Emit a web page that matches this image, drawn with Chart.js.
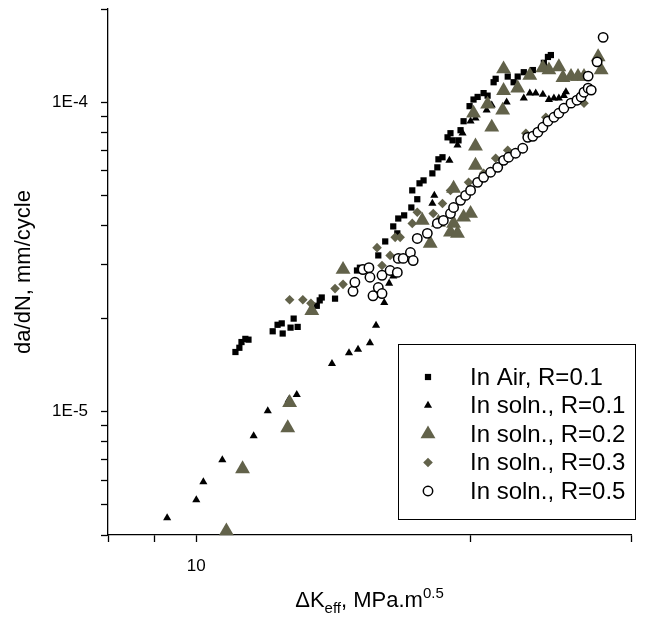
<!DOCTYPE html>
<html>
<head>
<meta charset="utf-8">
<script src="https://cdn.jsdelivr.net/npm/chart.js@4/dist/chart.umd.min.js"></script>
<style>
  html, body { margin: 0; padding: 0; background: #fff; }
  #wrap { width: 653px; height: 621px; }
</style>
</head>
<body>
<div id="wrap"><canvas id="chart" width="653" height="621"></canvas></div>
<script>
// crack growth rate vs effective stress intensity range, log-log

const xTickValues = [8, 9, 10, 20, 30];
const xTickLabels = ['', '', '10', '', ''];
const yTickValues = [4e-6, 5e-6, 6e-6, 7e-6, 8e-6, 9e-6, 1e-5, 2e-5, 3e-5, 4e-5, 5e-5, 6e-5, 7e-5, 8e-5, 9e-5, 1e-4, 2e-4];
const yTickLabels = ['', '', '', '', '', '', '1E-5', '', '', '', '', '', '', '', '', '1E-4', ''];

const seriesNames = ['In Air, R=0.1', 'In soln., R=0.1', 'In soln., R=0.2', 'In soln., R=0.3', 'In soln., R=0.5'];

// In Air, R=0.1
const airK = [11.04, 11.15, 11.21, 11.32, 11.41, 12.13, 12.28, 12.41, 12.44, 12.69, 12.79, 12.92, 13.56, 13.66, 13.73, 14.20,
  15.01, 15.12, 15.84, 16.12, 16.45, 16.62, 16.66, 16.91, 17.22, 17.26, 17.48, 17.58, 17.76, 18.16, 18.39, 18.44, 18.63,
  18.87, 19.01, 19.11, 19.40, 19.50, 19.65, 19.95, 20.15, 20.36, 20.67, 20.88, 21.20, 21.31, 21.97, 22.30, 22.53, 22.88,
  23.41, 24.07, 24.32, 24.50];
const airRate = [1.56e-5, 1.61e-5, 1.68e-5, 1.72e-5, 1.71e-5, 1.82e-5, 1.91e-5, 1.93e-5, 1.79e-5, 1.87e-5, 2.00e-5, 1.88e-5,
  2.20e-5, 2.29e-5, 2.34e-5, 2.32e-5, 2.86e-5, 2.92e-5, 3.20e-5, 3.55e-5, 3.97e-5, 3.77e-5, 4.21e-5, 4.31e-5, 4.57e-5,
  5.19e-5, 4.86e-5, 5.47e-5, 5.59e-5, 5.89e-5, 6.16e-5, 6.54e-5, 6.64e-5, 7.70e-5, 7.94e-5, 7.53e-5, 7.53e-5, 8.12e-5,
  8.68e-5, 9.71e-5, 1.02e-4, 1.04e-4, 1.07e-4, 1.05e-4, 1.16e-4, 1.19e-4, 1.21e-4, 1.16e-4, 1.21e-4, 1.25e-4, 1.27e-4,
  1.34e-4, 1.40e-4, 1.42e-4];

// In soln., R=0.1
const soln1K = [9.29, 10.0, 10.18, 10.68, 11.56, 11.98, 12.63, 12.89, 14.09, 14.71, 15.05, 15.51, 15.75, 16.08, 16.28, 16.45,
  18.16, 18.25, 18.96, 19.35, 19.60, 20.0, 20.25, 20.83, 21.10, 21.91, 22.88, 23.23, 23.58, 24.01, 24.38, 24.69, 25.00,
  25.32, 25.45];
const soln1Rate = [4.54e-6, 5.19e-6, 5.94e-6, 6.99e-6, 8.36e-6, 1.007e-5, 1.093e-5, 1.135e-5, 1.43e-5, 1.55e-5, 1.59e-5,
  1.67e-5, 1.90e-5, 2.25e-5, 2.60e-5, 2.74e-5, 4.71e-5, 5.0e-5, 6.49e-5, 7.26e-5, 7.94e-5, 8.68e-5, 8.88e-5, 9.42e-5,
  9.78e-5, 1.0e-4, 1.03e-4, 1.07e-4, 1.07e-4, 1.06e-4, 1.02e-4, 1.03e-4, 1.03e-4, 1.05e-4, 1.08e-4];

// In soln., R=0.2
const soln2K = [10.79, 11.24, 12.60, 12.66, 13.39, 14.49, 17.70, 18.06, 18.44, 19.01, 19.16, 19.35, 19.65, 20.0, 19.16,
  20.25, 20.25, 21.10, 20.15, 20.88, 21.69, 21.74, 22.53, 21.74, 23.23, 24.01, 24.38, 25.00, 25.26, 25.78, 26.24, 26.64,
  27.61, 27.82];
const soln2Rate = [4.12e-6, 6.54e-6, 8.87e-6, 1.07e-5, 2.12e-5, 2.88e-5, 4.15e-5, 3.50e-5, 4.09e-5, 3.80e-5, 4.06e-5,
  3.77e-5, 4.25e-5, 4.37e-5, 5.27e-5, 6.25e-5, 7.21e-5, 8.30e-5, 9.21e-5, 9.85e-5, 9.42e-5, 1.09e-4, 1.11e-4, 1.28e-4,
  1.22e-4, 1.29e-4, 1.27e-4, 1.30e-4, 1.20e-4, 1.21e-4, 1.21e-4, 1.21e-4, 1.40e-4, 1.27e-4];

// In soln., R=0.3
const soln3K = [12.66, 13.09, 13.36, 14.20, 14.49, 15.79, 15.99, 16.32, 16.53, 16.74, 17.26, 17.48, 18.20, 18.63, 19.01,
  19.90, 20.67, 21.31, 21.97, 23.00, 24.19, 26.64];
const soln3Rate = [2.30e-5, 2.30e-5, 2.24e-5, 2.50e-5, 2.58e-5, 3.39e-5, 2.97e-5, 3.20e-5, 3.66e-5, 3.66e-5, 4.06e-5,
  4.41e-5, 4.37e-5, 4.71e-5, 5.19e-5, 5.51e-5, 5.89e-5, 6.59e-5, 6.99e-5, 7.94e-5, 8.94e-5, 9.93e-5];

// In soln., R=0.5
const soln5K = [14.86, 14.93, 15.24, 15.47, 15.51, 15.63, 15.84, 15.99, 15.99, 16.32, 16.62, 16.66, 16.87, 17.18, 17.30,
  17.48, 17.93, 18.39, 18.67, 19.01, 19.16, 19.50, 19.75, 20.0, 20.36, 20.67, 21.04, 21.42, 21.74, 22.02, 22.41, 22.82,
  23.11, 23.41, 23.71, 24.01, 24.32, 24.69, 25.00, 25.32, 25.78, 26.17, 26.45, 26.64, 26.92, 27.13, 26.92, 27.54, 27.96];
const soln5Rate = [2.45e-5, 2.62e-5, 2.88e-5, 2.92e-5, 2.72e-5, 2.37e-5, 2.52e-5, 2.76e-5, 2.41e-5, 2.86e-5, 2.82e-5,
  3.13e-5, 3.13e-5, 3.27e-5, 3.08e-5, 3.63e-5, 3.77e-5, 4.06e-5, 4.15e-5, 4.37e-5, 4.57e-5, 4.82e-5, 5.0e-5, 5.19e-5,
  5.51e-5, 5.72e-5, 5.94e-5, 6.16e-5, 6.49e-5, 6.64e-5, 6.84e-5, 7.10e-5, 7.70e-5, 7.76e-5, 8.00e-5, 8.30e-5, 8.68e-5,
  8.94e-5, 9.21e-5, 9.56e-5, 9.93e-5, 1.015e-4, 1.04e-4, 1.077e-4, 1.11e-4, 1.094e-4, 1.214e-4, 1.35e-4, 1.62e-4];

const FONT = "'Liberation Sans', Arial, sans-serif";
const olive = '#62624a';

function pts(ks, rates) {
  return ks.map((k, i) => ({ x: k, y: rates[i] }));
}

const datasets = [
  { label: seriesNames[0], data: pts(airK, airRate), pointStyle: 'rect', pointRadius: 4.4,
    backgroundColor: '#000', borderColor: '#000', borderWidth: 0, order: 4 },
  { label: seriesNames[1], data: pts(soln1K, soln1Rate), pointStyle: 'triangle', pointRadius: 4.7,
    backgroundColor: '#000', borderColor: '#000', borderWidth: 0, order: 3 },
  { label: seriesNames[2], data: pts(soln2K, soln2Rate), pointStyle: 'triangle', pointRadius: 8.6,
    backgroundColor: olive, borderColor: olive, borderWidth: 0, order: 2 },
  { label: seriesNames[3], data: pts(soln3K, soln3Rate), pointStyle: 'rectRot', pointRadius: 4.8,
    backgroundColor: olive, borderColor: olive, borderWidth: 0, order: 1 },
  { label: seriesNames[4], data: pts(soln5K, soln5Rate), pointStyle: 'circle', pointRadius: 4.7,
    backgroundColor: '#fff', borderColor: '#000', borderWidth: 1.5, order: 0 }
];
datasets.forEach(d => { d.clip = false; d.pointHoverRadius = d.pointRadius; });

// legend box + x title with sub/superscript
const decor = {
  id: 'decor',
  afterDraw(chart) {
    const ctx = chart.ctx;
    const area = chart.chartArea;
    ctx.save();

    // x axis title
    const parts = [
      { t: '\u0394K', size: 22, dy: 0 },
      { t: 'eff', size: 15, dy: 6 },
      { t: ', MPa.m', size: 22, dy: 0 },
      { t: '0.5', size: 15, dy: -9 }
    ];
    let total = 0;
    parts.forEach(p => { ctx.font = p.size + 'px ' + FONT; p.w = ctx.measureText(p.t).width; total += p.w; });
    let x = (area.left + area.right) / 2 - total / 2;
    const base = 607;
    ctx.fillStyle = '#000';
    ctx.textBaseline = 'alphabetic';
    ctx.textAlign = 'left';
    parts.forEach(p => {
      ctx.font = p.size + 'px ' + FONT;
      ctx.fillText(p.t, x, base + p.dy);
      x += p.w;
    });

    // legend
    const bx = 398, by = 344, bw = 237, bh = 175;
    ctx.fillStyle = '#fff';
    ctx.fillRect(bx, by, bw, bh);
    ctx.strokeStyle = '#000';
    ctx.lineWidth = 1;
    ctx.strokeRect(bx + 0.5, by + 0.5, bw, bh);
    const rowY = [377, 405.5, 434, 462.5, 491];
    chart.data.datasets.forEach((d, i) => {
      ctx.fillStyle = d.backgroundColor;
      ctx.strokeStyle = d.borderColor;
      ctx.lineWidth = d.borderWidth;
      Chart.helpers.drawPoint(ctx, {
        pointStyle: d.pointStyle, radius: d.pointRadius, rotation: 0, borderWidth: d.borderWidth
      }, 428, rowY[i]);
      ctx.fillStyle = '#000';
      ctx.font = '24px ' + FONT;
      ctx.textBaseline = 'middle';
      ctx.fillText(d.label, 470, rowY[i] + 1);
    });
    ctx.restore();
  }
};

const axisLine = { display: true, color: '#000', width: 1.3 };
const gridOpts = { display: true, drawOnChartArea: false, drawTicks: true, tickLength: 7, tickColor: '#000', tickWidth: 1.3 };

new Chart(document.getElementById('chart'), {
  type: 'scatter',
  data: { datasets: datasets },
  options: {
    responsive: false,
    animation: false,
    devicePixelRatio: 1,
    events: [],
    layout: { padding: { top: 9, right: 22, left: 0, bottom: 0 } },
    plugins: { legend: { display: false }, tooltip: { enabled: false } },
    scales: {
      x: {
        type: 'logarithmic',
        min: 8,
        max: 30,
        border: axisLine,
        grid: gridOpts,
        afterBuildTicks: s => { s.ticks = xTickValues.map(v => ({ value: v })); },
        afterFit: s => { s.height = 86; s.paddingLeft = 0; s.paddingRight = 0; },
        ticks: {
          autoSkip: false, maxRotation: 0, padding: 14, color: '#000',
          font: { family: FONT, size: 17 },
          callback: (v, i) => xTickLabels[i]
        }
      },
      y: {
        type: 'logarithmic',
        min: 4e-6,
        max: 2e-4,
        border: axisLine,
        grid: gridOpts,
        afterBuildTicks: s => { s.ticks = yTickValues.map(v => ({ value: v })); },
        afterFit: s => { s.width = 108; s.paddingTop = 0; s.paddingBottom = 0; },
        ticks: {
          autoSkip: false, padding: 13, color: '#000',
          font: { family: FONT, size: 17 },
          callback: (v, i) => yTickLabels[i]
        },
        title: {
          display: true, text: 'da/dN, mm/cycle', color: '#000',
          font: { family: FONT, size: 22 },
          padding: { top: 11, bottom: 0 }
        }
      }
    }
  },
  plugins: [decor]
});
</script>
</body>
</html>
